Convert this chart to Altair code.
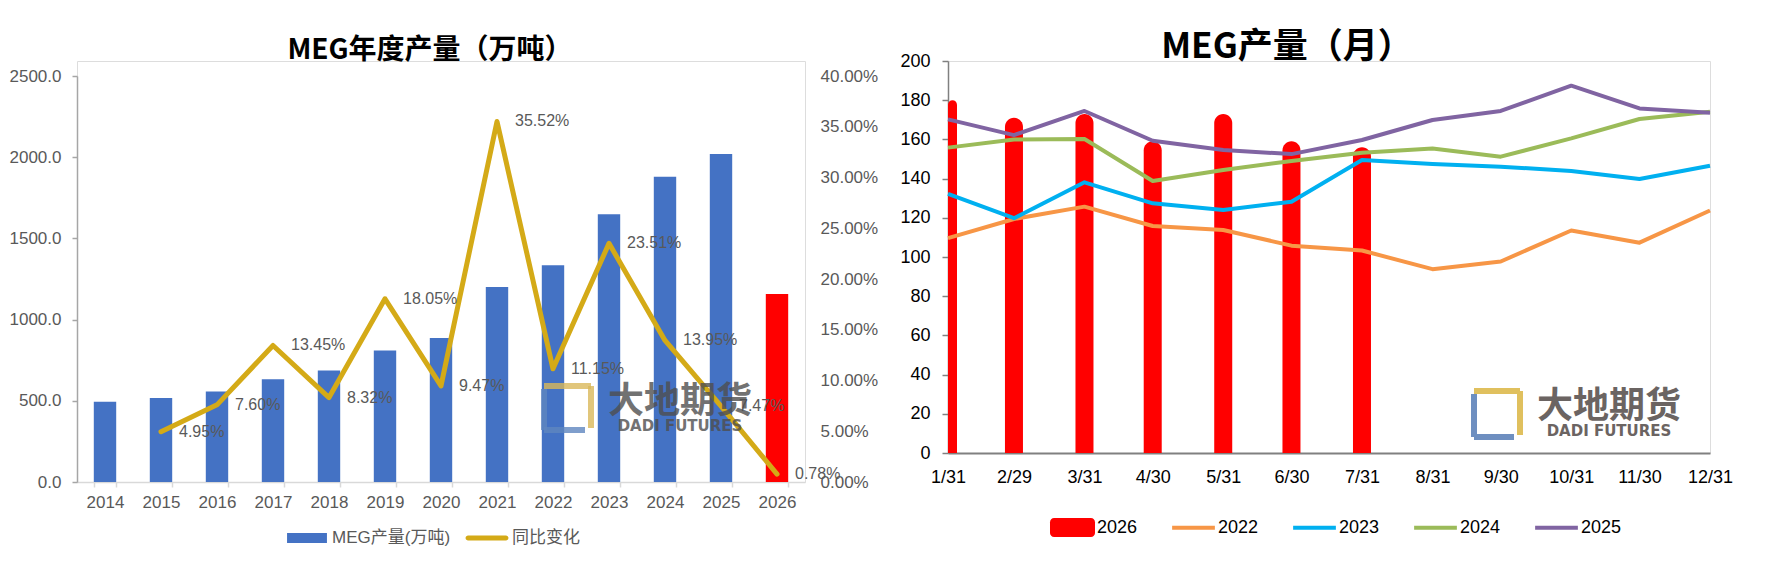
import altair as alt
import pandas as pd

# ---------------- data: annual chart ----------------
years = ["2014", "2015", "2016", "2017", "2018", "2019", "2020",
         "2021", "2022", "2023", "2024", "2025", "2026"]
output = [494, 518, 558, 633, 686, 810, 886, 1201, 1335, 1649, 1879, 2019, 1158]
yoy = [None, 0.0495, 0.0760, 0.1345, 0.0832, 0.1805, 0.0947,
       0.3552, 0.1115, 0.2351, 0.1395, 0.0747, 0.0078]
legend_left = ["MEG产量(万吨)", "同比变化"]

# ---------------- data: monthly chart ----------------
dates = ["2024-01-31", "2024-02-29", "2024-03-31", "2024-04-30", "2024-05-31", "2024-06-30",
         "2024-07-31", "2024-08-31", "2024-09-30", "2024-10-31", "2024-11-30", "2024-12-31"]
m2022 = [109.6, 119.4, 125.7, 115.8, 113.8, 105.8, 103.3, 93.8, 97.7, 113.5, 107.3, 123.7]
m2023 = [132.2, 119.8, 138.1, 127.4, 124.0, 128.2, 149.5, 147.4, 146.1, 143.9, 139.8, 146.6]
m2024 = [155.8, 160.0, 160.2, 138.8, 144.4, 149.0, 153.2, 155.4, 151.2, 160.5, 170.4, 174.1]
m2025 = [170.2, 162.2, 174.5, 159.3, 154.6, 152.5, 159.7, 169.9, 174.5, 187.4, 175.8, 173.6]
m2026 = [180, 171, 173, 159, 173, 159, 156]
legend_right = ["2026", "2022", "2023", "2024", "2025"]

BLUE = "#4472C4"
RED = "#FF0000"
GOLD = "#D4AA17"
C2022 = "#F79646"
C2023 = "#00B0F0"
C2024 = "#9BBB59"
C2025 = "#8064A2"

FONT = "Liberation Sans, Arial, Noto Sans CJK SC, sans-serif"
CJK = "Noto Sans CJK SC"
GRAY = "#595959"

# ================= left chart =================
# left panel: plot area drawn 15px below the panel origin (range offsets)
LH = 421
LTOP = 15

df_year = pd.DataFrame({"year": years, "output": output, "yoy": yoy})

x_year = alt.X(
    "year:N", sort=years,
    scale=alt.Scale(paddingInner=0.6, paddingOuter=0.3),
    axis=alt.Axis(title=None, labelAngle=0, labelFont=FONT, labelFontSize=17,
                  labelColor=GRAY, domainColor="#D9D9D9", domainWidth=1.5,
                  tickColor="#D9D9D9", tickWidth=1.5, tickSize=5, tickBand="extent",
                  labelPadding=7),
)

bars = alt.Chart(df_year).mark_bar().encode(
    x=x_year,
    y=alt.Y("output:Q", scale=alt.Scale(domain=[0, 2500], range=[LH, LTOP], nice=False),
            axis=alt.Axis(title=None, values=[0, 500, 1000, 1500, 2000, 2500], format=".1f",
                          grid=False, domainColor="#A6A6A6", domainWidth=1.5,
                          tickColor="#A6A6A6", tickWidth=1.5, tickSize=5, labelPadding=11,
                          labelFont=FONT, labelFontSize=17, labelColor=GRAY)),
    color=alt.condition("datum.year == '2026'", alt.value(RED), alt.value(BLUE)),
)

pct_scale = alt.Scale(domain=[0, 0.4], range=[LH, LTOP], nice=False)

line = alt.Chart(df_year).transform_filter("isValid(datum.yoy)").mark_line(
    color=GOLD, strokeWidth=5, strokeCap="round", strokeJoin="round"
).encode(
    x=x_year,
    y=alt.Y("yoy:Q", scale=pct_scale,
            axis=alt.Axis(title=None, orient="right", format=".2%",
                          values=[0, 0.05, 0.1, 0.15, 0.2, 0.25, 0.3, 0.35, 0.4],
                          domain=False, ticks=False, grid=False, labelPadding=15,
                          labelFont=FONT, labelFontSize=17, labelColor=GRAY)),
)

labels = alt.Chart(df_year).transform_filter("isValid(datum.yoy)").mark_text(
    align="left", baseline="middle", dx=18, font=FONT, fontSize=16, color=GRAY
).encode(
    x=x_year,
    y=alt.Y("yoy:Q", scale=pct_scale, axis=None),
    text=alt.Text("yoy:Q", format=".2%"),
)

leg1 = alt.Legend(orient="none", legendX=209, legendY=456, direction="horizontal",
                  title=None, symbolSize=1764, symbolStrokeWidth=0, symbolOpacity=1,
                  labelFont=FONT, labelFontSize=17, labelColor=GRAY,
                  columnPadding=14, labelOffset=4)

wm = pd.DataFrame({"k": [0]})

legend_l = alt.Chart(wm).transform_filter("false").mark_point(
    filled=True, opacity=1
).encode(
    color=alt.Color("series:N", scale=alt.Scale(domain=legend_left, range=[BLUE, GOLD]),
                    legend=leg1),
    shape=alt.Shape("series:N",
                    scale=alt.Scale(domain=legend_left,
                                    range=["M-0.95,-0.24H0.95V0.24H-0.95Z",
                                           "M-0.9,-0.12H0.9A0.12,0.12 0 0 1 0.9,0.12H-0.9A0.12,0.12 0 0 1 -0.9,-0.12Z"]),
                    legend=leg1),
)

wm_l = [
    alt.Chart(wm).mark_text(text="大地期货", font=CJK, fontWeight="bold", fontSize=36,
                            color="#4F4F4F", opacity=0.8).encode(x=alt.value(680 - 77), y=alt.value(402 - 61)),
    alt.Chart(wm).mark_text(text="DADI FUTURES", font="DejaVu Sans", fontWeight="bold", fontSize=15,
                            color="#4F4F4F", opacity=0.8).encode(x=alt.value(680 - 77), y=alt.value(426 - 61)),
    alt.Chart(wm).mark_rule(color="#D9B85A", strokeWidth=6, opacity=0.8).encode(
        x=alt.value(467), x2=alt.value(514), y=alt.value(325), y2=alt.value(325)),
    alt.Chart(wm).mark_rule(color="#D9B85A", strokeWidth=6, opacity=0.8).encode(
        x=alt.value(514), x2=alt.value(514), y=alt.value(325), y2=alt.value(367)),
    alt.Chart(wm).mark_rule(color="#5F86BF", strokeWidth=6, opacity=0.8).encode(
        x=alt.value(467), x2=alt.value(467), y=alt.value(328), y2=alt.value(369)),
    alt.Chart(wm).mark_rule(color="#5F86BF", strokeWidth=6, opacity=0.8).encode(
        x=alt.value(467), x2=alt.value(508), y=alt.value(369), y2=alt.value(369)),
]

left = alt.layer(bars, line, labels, legend_l, *wm_l).resolve_scale(
    y="independent"
).properties(
    width=728, height=LH,
    title=alt.TitleParams("MEG年度产量（万吨）", font=CJK, fontSize=28, fontWeight="bold",
                          color="black", anchor="middle", dx=-11, offset=-4, frame="group"),
)

# ================= right chart =================
df_bar = pd.DataFrame({"date": [d + "T00:00:00" for d in dates[:len(m2026)]], "value": m2026})

x_scale_m = alt.Scale(domain=[alt.DateTime(year=2024, month=1, date=31),
                              alt.DateTime(year=2024, month=12, date=31)],
                      nice=False, clamp=True)
x_axis_m = alt.Axis(title=None,
                    values=[alt.DateTime(year=2024, month=int(d[5:7]), date=int(d[8:10])) for d in dates],
                    format="%-m/%-d", labelAngle=0, ticks=False, grid=False,
                    domainColor="#808080", domainWidth=2, labelPadding=15,
                    labelFont=FONT, labelFontSize=18, labelColor="black", labelFlush=False)

y_scale_m = alt.Scale(domain=[0, 200], nice=False)
y_axis_m = alt.Axis(title=None, values=list(range(0, 201, 20)), grid=False,
                    domainColor="#808080", domainWidth=1.5, tickColor="#808080",
                    tickWidth=1.5, tickSize=6, labelPadding=12,
                    labelFont=FONT, labelFontSize=18, labelColor="black")

bars2 = alt.Chart(df_bar).transform_calculate(
    d0="timeOffset('hours', toDate(datum.date), -95)",
    d1="timeOffset('hours', toDate(datum.date), 95)",
).mark_rect(fill=RED, cornerRadiusTopLeft=9, cornerRadiusTopRight=9).encode(
    x=alt.X("d0:T", scale=x_scale_m, axis=x_axis_m),
    x2="d1:T",
    y=alt.Y("value:Q", scale=y_scale_m, axis=y_axis_m),
    y2=alt.datum(0),
)

line_layers = []
for vals, col in [(m2022, C2022), (m2023, C2023), (m2024, C2024), (m2025, C2025)]:
    dfl = pd.DataFrame({"date": [d + "T00:00:00" for d in dates], "value": vals})
    line_layers.append(
        alt.Chart(dfl).mark_line(color=col, strokeWidth=4, strokeJoin="round").encode(
            x=alt.X("date:T", scale=x_scale_m, axis=x_axis_m),
            y=alt.Y("value:Q", scale=y_scale_m, axis=y_axis_m))
    )

leg2 = alt.Legend(orient="none", legendX=102, legendY=444, direction="horizontal",
                  title=None, symbolSize=2025, symbolStrokeWidth=0, symbolOpacity=1,
                  labelFont=FONT, labelFontSize=18, labelColor="black",
                  columnPadding=33, labelOffset=2)

legend_r = alt.Chart(wm).transform_filter("false").mark_point(
    filled=True, opacity=1
).encode(
    color=alt.Color("legend:N", scale=alt.Scale(domain=legend_right,
                                                range=[RED, C2022, C2023, C2024, C2025]),
                    legend=leg2),
    shape=alt.Shape("legend:N",
                    scale=alt.Scale(domain=legend_right,
                                    range=["M-0.82,-0.42H0.82A0.18,0.18 0 0 1 1,-0.24V0.24A0.18,0.18 0 0 1 0.82,0.42H-0.82A0.18,0.18 0 0 1 -1,0.24V-0.24A0.18,0.18 0 0 1 -0.82,-0.42Z",
                                           "M-0.95,-0.09H0.95V0.09H-0.95Z",
                                           "M-0.95,-0.09H0.95V0.09H-0.95Z",
                                           "M-0.95,-0.09H0.95V0.09H-0.95Z",
                                           "M-0.95,-0.09H0.95V0.09H-0.95Z"]),
                    legend=leg2),
)

wm_r = [
    alt.Chart(wm).mark_text(text="大地期货", font=CJK, fontWeight="bold", fontSize=36,
                            color="#6B6462").encode(x=alt.value(1612 - 951), y=alt.value(407 - 61)),
    alt.Chart(wm).mark_text(text="DADI FUTURES", font="DejaVu Sans", fontWeight="bold", fontSize=15,
                            color="#6B6462").encode(x=alt.value(1612 - 951), y=alt.value(431 - 61)),
    alt.Chart(wm).mark_rule(color="#E0C05E", strokeWidth=6).encode(
        x=alt.value(526), x2=alt.value(572), y=alt.value(330), y2=alt.value(330)),
    alt.Chart(wm).mark_rule(color="#E0C05E", strokeWidth=6).encode(
        x=alt.value(572), x2=alt.value(572), y=alt.value(330), y2=alt.value(374)),
    alt.Chart(wm).mark_rule(color="#6E8FC0", strokeWidth=6).encode(
        x=alt.value(526), x2=alt.value(526), y=alt.value(333), y2=alt.value(376)),
    alt.Chart(wm).mark_rule(color="#6E8FC0", strokeWidth=6).encode(
        x=alt.value(526), x2=alt.value(566), y=alt.value(376), y2=alt.value(376)),
]

right = alt.layer(bars2, *line_layers, legend_r, *wm_r).properties(
    width=762, height=392,
    title=alt.TitleParams("MEG产量（月）", font=CJK, fontSize=35, fontWeight="bold",
                          color="black", anchor="middle", dx=-42, offset=-13, frame="group"),
)

chart = alt.hconcat(left, right, spacing=20).resolve_scale(
    color="independent", shape="independent"
).properties(
    padding={"left": 0, "top": 21, "right": 0, "bottom": 0}
).configure_view(stroke=None).configure(font=FONT)

chart.save("out.html", embed_options={"renderer": "svg", "actions": False})
